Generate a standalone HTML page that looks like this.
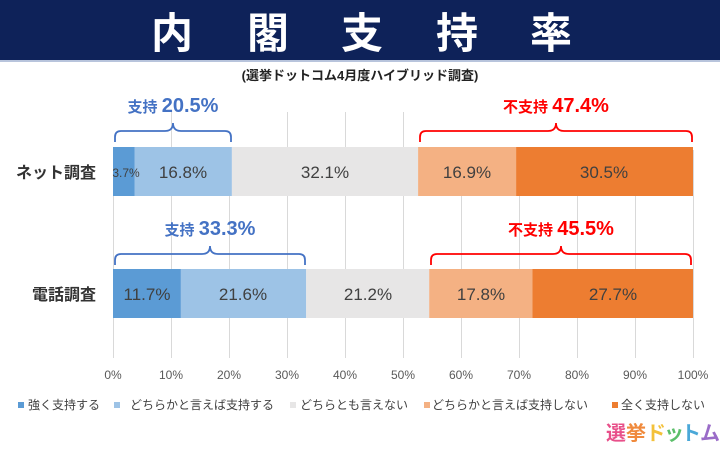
<!DOCTYPE html>
<html><head><meta charset="utf-8"><style>
body{margin:0;width:720px;height:444px;overflow:hidden;background:#fff;font-family:"Liberation Sans","Noto Sans CJK JP",sans-serif}
</style></head><body>
<svg width="720" height="444" xmlns="http://www.w3.org/2000/svg" font-family="Liberation Sans, Noto Sans CJK JP, sans-serif">
<rect x="0" y="0" width="720" height="60" fill="#0e2259"/>
<rect x="0" y="60" width="720" height="2" fill="#b8c4dc"/>
<text fill="#fff" font-size="42" font-weight="bold" y="48" text-anchor="middle"><tspan x="172">内</tspan><tspan x="268">閣</tspan><tspan x="362">支</tspan><tspan x="457">持</tspan><tspan x="551">率</tspan></text>
<text x="360" y="80" text-anchor="middle" fill="#222" font-size="13" font-weight="bold">(選挙ドットコム4月度ハイブリッド調査)</text>
<g stroke="#d9d9d9" stroke-width="1">
<line x1="113.5" y1="150" x2="113.5" y2="358"/><line x1="171.5" y1="112" x2="171.5" y2="358"/><line x1="229.5" y1="150" x2="229.5" y2="358"/><line x1="287.5" y1="112" x2="287.5" y2="358"/><line x1="345.5" y1="112" x2="345.5" y2="358"/><line x1="403.5" y1="112" x2="403.5" y2="358"/><line x1="461.5" y1="150" x2="461.5" y2="358"/><line x1="519.5" y1="150" x2="519.5" y2="358"/><line x1="577.5" y1="150" x2="577.5" y2="358"/><line x1="635.5" y1="150" x2="635.5" y2="358"/><line x1="693.5" y1="150" x2="693.5" y2="358"/>
</g>
<rect x="113" y="147" width="21.5" height="49" fill="#5b9bd5"/>
<rect x="134.5" y="147" width="97.4" height="49" fill="#9dc3e6"/>
<rect x="231.9" y="147" width="186.2" height="49" fill="#e7e6e6"/>
<rect x="418.1" y="147" width="98" height="49" fill="#f4b183"/>
<rect x="516.1" y="147" width="176.9" height="49" fill="#ed7d31"/>
<g font-size="17" fill="#404040" text-anchor="middle">
<text x="126" y="177" font-size="12">3.7%</text>
<text x="183" y="178">16.8%</text>
<text x="325" y="178">32.1%</text>
<text x="467" y="178">16.9%</text>
<text x="604" y="178">30.5%</text>
</g>
<rect x="113" y="269" width="67.9" height="49" fill="#5b9bd5"/>
<rect x="180.9" y="269" width="125.3" height="49" fill="#9dc3e6"/>
<rect x="306.2" y="269" width="123" height="49" fill="#e7e6e6"/>
<rect x="429.2" y="269" width="103.2" height="49" fill="#f4b183"/>
<rect x="532.4" y="269" width="160.6" height="49" fill="#ed7d31"/>
<g font-size="17" fill="#404040" text-anchor="middle">
<text x="147" y="300">11.7%</text>
<text x="243" y="300">21.6%</text>
<text x="368" y="300">21.2%</text>
<text x="481" y="300">17.8%</text>
<text x="613" y="300">27.7%</text>
</g>
<text x="96" y="178" text-anchor="end" font-size="16" font-weight="bold" fill="#333">ネット調査</text>
<text x="96" y="300" text-anchor="end" font-size="16" font-weight="bold" fill="#333">電話調査</text>
<g fill="none" stroke-width="1.8">
<path d="M115 142 v-5 q0 -6 6 -6 h44 q8 0 8 -8 q0 8 8 8 h44 q6 0 6 6 v5" stroke="#4472c4"/>
<path d="M420 142 v-5 q0 -6 6 -6 h122 q8 0 8 -8 q0 8 8 8 h122 q6 0 6 6 v5" stroke="#ff0000"/>
<path d="M115 265 v-5 q0 -6 6 -6 h81 q8 0 8 -8 q0 8 8 8 h81 q6 0 6 6 v5" stroke="#4472c4"/>
<path d="M431 265 v-5 q0 -6 6 -6 h116 q8 0 8 -8 q0 8 8 8 h116 q6 0 6 6 v5" stroke="#ff0000"/>
</g>
<text x="173" y="112" text-anchor="middle" fill="#4472c4" font-weight="bold"><tspan font-size="15">支持 </tspan><tspan font-size="20">20.5%</tspan></text>
<text x="556" y="112" text-anchor="middle" fill="#ff0000" font-weight="bold"><tspan font-size="15">不支持 </tspan><tspan font-size="20">47.4%</tspan></text>
<text x="210" y="235" text-anchor="middle" fill="#4472c4" font-weight="bold"><tspan font-size="15">支持 </tspan><tspan font-size="20">33.3%</tspan></text>
<text x="561" y="235" text-anchor="middle" fill="#ff0000" font-weight="bold"><tspan font-size="15">不支持 </tspan><tspan font-size="20">45.5%</tspan></text>
<g font-size="12" fill="#595959" text-anchor="middle">
<text x="113" y="379">0%</text><text x="171" y="379">10%</text><text x="229" y="379">20%</text><text x="287" y="379">30%</text><text x="345" y="379">40%</text><text x="403" y="379">50%</text><text x="461" y="379">60%</text><text x="519" y="379">70%</text><text x="577" y="379">80%</text><text x="635" y="379">90%</text><text x="693" y="379">100%</text>
</g>
<g font-size="12" fill="#404040">
<rect x="18" y="402" width="6" height="6" fill="#5b9bd5"/><text x="28" y="409">強く支持する</text>
<rect x="114" y="402" width="6" height="6" fill="#9dc3e6"/><text x="130" y="409">どちらかと言えば支持する</text>
<rect x="290" y="402" width="6" height="6" fill="#e7e6e6"/><text x="300" y="409">どちらとも言えない</text>
<rect x="424" y="402" width="6" height="6" fill="#f4b183"/><text x="432" y="409">どちらかと言えば支持しない</text>
<rect x="612" y="402" width="6" height="6" fill="#ed7d31"/><text x="621" y="409">全く支持しない</text>
</g>
<g font-size="20" font-weight="bold">
<text x="606" y="440" fill="#e8508a">選</text><text x="626" y="440" fill="#f08a3c">挙</text><text x="646" y="440" fill="#f3c13a">ド</text><text x="664" y="440" fill="#5cbf6a">ッ</text><text x="681" y="440" fill="#4aa8d8">ト</text><text x="700" y="440" fill="#9a6cc8">ム</text>
</g>
</svg>
</body></html>
